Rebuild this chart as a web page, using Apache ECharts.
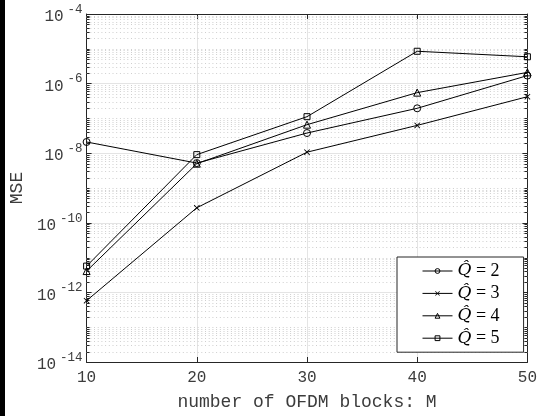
<!DOCTYPE html>
<html>
<head>
<meta charset="utf-8">
<script src="https://cdn.jsdelivr.net/npm/echarts@6/dist/echarts.min.js"></script>
<style>
  html, body { margin: 0; padding: 0; background: #fff; }
  #chart { width: 540px; height: 416px; }
</style>
</head>
<body>
<div id="chart"></div>
<script>
// Number of OFDM blocks on the x axis
const blocks = [10, 20, 30, 40, 50];
// MSE per estimated order Q-hat
const mseQ2 = [2.1e-8, 5.2e-9, 3.8e-8, 1.95e-7, 1.7e-6];
const mseQ3 = [5.8e-13, 2.7e-10, 1.07e-8, 6.3e-8, 4.2e-7];
const mseQ4 = [4.1e-12, 5.0e-9, 6.6e-8, 5.5e-7, 2.1e-6];
const mseQ5 = [5.7e-12, 9.1e-9, 1.12e-7, 8.5e-6, 5.9e-6];
const qValues = [2, 3, 4, 5];
const xName = 'number of OFDM blocks: M';
const yName = 'MSE';
const yMinExp = -14, yMaxExp = -4;

const ink = '#262626';
const textColor = '#3c3c3c';
const mono = 'Liberation Mono, DejaVu Sans Mono, monospace';

// Minor grid rows: k * 10^n for every decade (odd decades included)
const minorRows = [];
for (let n = yMinExp; n < yMaxExp; n++) {
  for (let k = 1; k <= 9; k++) {
    if (k === 1 && (n - yMinExp) % 2 === 0) continue;
    minorRows.push([blocks[0], Number((k * Math.pow(10, n)).toPrecision(3))]);
  }
}

const crossPath = 'path://M0,1L1,0L5,4L9,0L10,1L6,5L10,9L9,10L5,6L1,10L0,9L4,5Z';
const markerShapes = ['circle', crossPath, 'triangle', 'rect'];
const markerSizes = [7, 6, 7, 6];
const seriesValues = [mseQ2, mseQ3, mseQ4, mseQ5];
const seriesNames = qValues.map(q => 'Q' + q);

const hollow = { color: 'rgba(255,255,255,0)', borderColor: '#000', borderWidth: 1 };
const solid = { color: '#000', borderColor: '#000', borderWidth: 0 };

const lineSeries = seriesValues.map((vals, i) => ({
  name: seriesNames[i],
  type: 'line',
  data: blocks.map((b, j) => [b, vals[j]]),
  symbol: markerShapes[i],
  symbolSize: markerSizes[i],
  showAllSymbol: true,
  lineStyle: { color: '#000', width: 1 },
  itemStyle: i === 1 ? solid : hollow,
  emphasis: { disabled: true },
  z: 5
}));

const chart = echarts.init(document.getElementById('chart'), null, { renderer: 'canvas' });

chart.setOption({
  backgroundColor: '#fff',
  animation: false,
  graphic: [
    { type: 'rect', shape: { x: 0, y: 0, width: 5, height: 416 }, style: { fill: '#000' } }
  ],
  grid: { left: 82, right: 11, top: 14, bottom: 50, containLabel: false },
  legend: {
    data: seriesNames.map((n, i) => ({
      name: n,
      itemStyle: i === 1 ? solid : hollow
    })),
    orient: 'vertical',
    left: 397,
    top: 257,
    itemWidth: 30,
    itemHeight: 6,
    itemGap: 4.4,
    padding: [5, 24, 5, 25],
    backgroundColor: '#fff',
    borderColor: ink,
    borderWidth: 1,
    borderRadius: 0,
    lineStyle: { color: '#000', width: 1 },
    formatter: name => '{q|Q\u0302}{e| = ' + name.slice(1) + '}',
    textStyle: {
      lineHeight: 16,
      rich: {
        q: { fontFamily: 'DejaVu Serif, Liberation Serif, serif', fontStyle: 'italic', fontSize: 17, lineHeight: 16, color: '#000' },
        e: { fontFamily: 'Liberation Serif, DejaVu Serif, serif', fontSize: 18, lineHeight: 16, color: '#000' }
      }
    },
    selectedMode: false
  },
  xAxis: [
    {
      type: 'value', min: 10, max: 50, interval: 10,
      name: xName, nameLocation: 'middle', nameGap: 31,
      nameTextStyle: { fontFamily: mono, fontSize: 18, color: textColor },
      axisLine: { show: true, lineStyle: { color: ink, width: 1 } },
      axisTick: { show: true, inside: true, length: 5, lineStyle: { color: ink } },
      axisLabel: { fontFamily: mono, fontSize: 16, color: textColor, margin: 8 },
      splitLine: { show: true, lineStyle: { color: '#e4e4e4', width: 1 } }
    },
    {
      type: 'value', min: 10, max: 50, interval: 10, position: 'top',
      axisLine: { show: true, lineStyle: { color: ink, width: 1 } },
      axisTick: { show: true, inside: true, length: 5, lineStyle: { color: ink } },
      axisLabel: { show: false },
      splitLine: { show: false }
    }
  ],
  yAxis: [
    {
      type: 'log', logBase: 10, min: Math.pow(10, yMinExp), max: Math.pow(10, yMaxExp), interval: 2,
      name: yName, nameLocation: 'middle', nameGap: 56,
      nameTextStyle: { fontFamily: mono, fontSize: 18, color: textColor },
      axisLine: { show: true, lineStyle: { color: ink, width: 1 } },
      axisTick: { show: true, inside: true, length: 5, lineStyle: { color: ink } },
      axisLabel: {
        margin: 4,
        formatter: v => '{b|10}{s|' + Math.round(Math.log10(v)) + '}',
        rich: {
          b: { fontFamily: mono, fontSize: 16, color: textColor, lineHeight: 22, verticalAlign: 'bottom' },
          s: { fontFamily: mono, fontSize: 12.5, color: textColor, lineHeight: 22, verticalAlign: 'top', padding: [0, 0, 0, 4] }
        }
      },
      splitLine: { show: true, lineStyle: { color: '#e4e4e4', width: 1 } }
    },
    {
      type: 'log', logBase: 10, min: Math.pow(10, yMinExp), max: Math.pow(10, yMaxExp), interval: 2,
      position: 'right',
      axisLine: { show: true, lineStyle: { color: ink, width: 1 } },
      axisTick: { show: true, inside: true, length: 5, lineStyle: { color: ink } },
      axisLabel: { show: false },
      splitLine: { show: false }
    }
  ],
  series: [
    {
      name: 'minor-grid',
      type: 'custom',
      silent: true,
      z: 1,
      data: minorRows,
      encode: { x: 0, y: 1 },
      renderItem: (params, api) => {
        const cs = params.coordSys;
        const y = Math.round(api.coord([api.value(0), api.value(1)])[1]) + 0.5;
        const x0 = cs.x, x1 = cs.x + cs.width;
        return {
          type: 'group',
          children: [
            { type: 'line', shape: { x1: x0, y1: y, x2: x1, y2: y }, style: { stroke: '#cfcfcf', lineWidth: 1, lineDash: [1, 2.7] } },
            { type: 'line', shape: { x1: x0, y1: y, x2: x0 + 3, y2: y }, style: { stroke: ink, lineWidth: 1 } },
            { type: 'line', shape: { x1: x1 - 3, y1: y, x2: x1, y2: y }, style: { stroke: ink, lineWidth: 1 } }
          ]
        };
      }
    }
  ].concat(lineSeries)
});
</script>
</body>
</html>
